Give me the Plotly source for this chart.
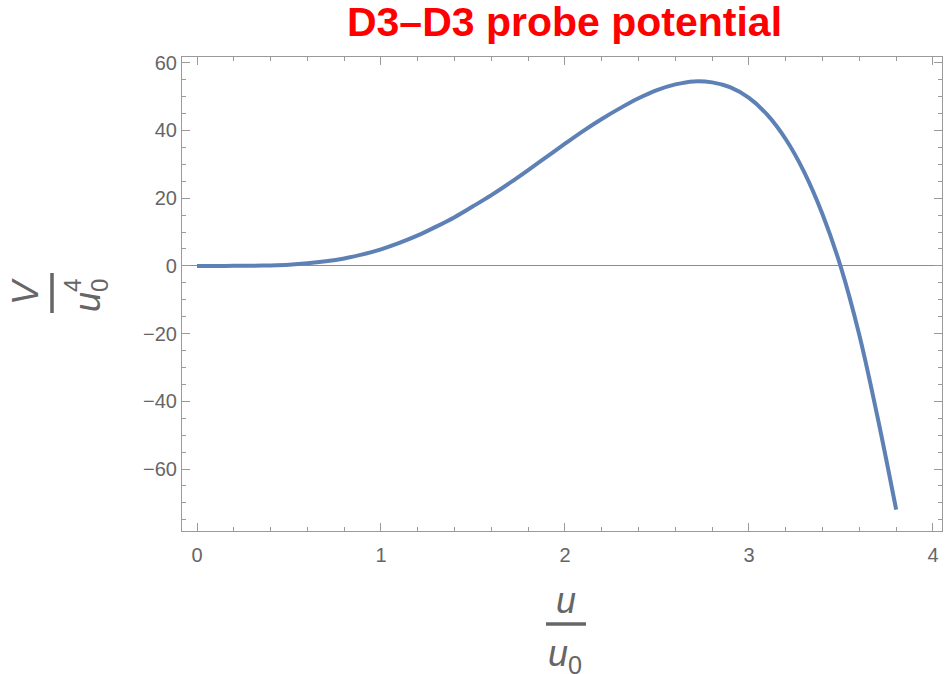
import plotly.graph_objects as go

# ---- data ----
u_ratio = [0.0, 0.1, 0.2, 0.3, 0.4, 0.5, 0.6, 0.7, 0.8, 0.9, 1.0,
           1.1, 1.2, 1.3, 1.4, 1.5, 1.6, 1.7, 1.8, 1.9, 2.0,
           2.1, 2.2, 2.3, 2.4, 2.5, 2.6, 2.7, 2.8, 2.9, 3.0,
           3.1, 3.2, 3.3, 3.4, 3.5, 3.6, 3.7, 3.8]
V_ratio = [0.0, 0.0, 0.01, 0.05, 0.15, 0.35, 0.75, 1.35, 2.2, 3.4, 4.9,
           6.8, 9.0, 11.6, 14.4, 17.6, 20.9, 24.5, 28.3, 32.2, 36.1,
           39.9, 43.4, 46.6, 49.5, 51.9, 53.6, 54.5, 54.2, 52.7, 49.6,
           44.6, 37.4, 27.7, 15.2, -0.5, -20.5, -45.0, -72.0]
x_ticks = [0, 1, 2, 3, 4]
y_ticks = [-60, -40, -20, 0, 20, 40, 60]
title_text = "D3\u2013D3 probe potential"

W, H = 945, 674
L, R, T, B = 182, 3, 57, 143
PW, PH = W - L - R, H - T - B

def px(x):
    return (x - L) / PW

def py(y):
    return (H - B - y) / PH

FONT = "Liberation Sans, Arial, sans-serif"
GRAY_TXT = "#666666"
GRAY_AX = "#9a9a9a"

fig = go.Figure()
fig.add_trace(go.Scatter(
    x=u_ratio, y=V_ratio, mode="lines", line_shape="spline",
    line=dict(color="#5E81B5", width=4, smoothing=1.0), hoverinfo="x+y", showlegend=False,
))

axis_common = dict(
    showgrid=False, showline=True, linecolor=GRAY_AX, linewidth=1.2,
    mirror="allticks", ticks="inside", tickcolor=GRAY_AX, tickwidth=1.2,
    tickfont=dict(family=FONT, size=20, color=GRAY_TXT),
)

fig.update_xaxes(
    range=[-0.0815, 4.049], tickvals=x_ticks, ticklen=8, zeroline=False,
    ticklabelstandoff=6,
    minor=dict(ticks="inside", ticklen=4, dtick=0.2, tickcolor=GRAY_AX, tickwidth=1),
    **axis_common,
)
fig.update_yaxes(
    range=[-78.3, 61.7], tickvals=y_ticks, ticklen=8,
    zeroline=True, zerolinecolor="#8c8c8c", zerolinewidth=1,
    minor=dict(ticks="inside", ticklen=4, dtick=5, tickcolor=GRAY_AX, tickwidth=1),
    **axis_common,
)

ann = []
lab_font = dict(family=FONT, size=36, color=GRAY_TXT)
sc_font = dict(family=FONT, size=24, color=GRAY_TXT)
# y label: V / u0^4 (rotated)
ann.append(dict(x=px(25), y=py(292), text="<i>V</i>", textangle=-90, font=lab_font))
ann.append(dict(x=px(87), y=py(302), text="<i>u</i>", textangle=-90, font=lab_font))
ann.append(dict(x=px(72), y=py(286), text="4", textangle=-90, font=sc_font))
ann.append(dict(x=px(99), y=py(286), text="0", textangle=-90, font=sc_font))
# x label: u / u0
ann.append(dict(x=px(565.5), y=py(600), text="<i>u</i>", font=lab_font))
ann.append(dict(x=px(565), y=py(656), text="<i>u</i><sub>0</sub>", font=lab_font))
for a in ann:
    a.update(xref="paper", yref="paper", showarrow=False, xanchor="center", yanchor="middle")

shapes = [
    dict(type="line", xref="paper", yref="paper", x0=px(52), x1=px(52), y0=py(273), y1=py(313),
         line=dict(color=GRAY_TXT, width=3.5)),
    dict(type="line", xref="paper", yref="paper", x0=px(546), x1=px(586), y0=py(624), y1=py(624),
         line=dict(color=GRAY_TXT, width=3.5)),
]

fig.update_layout(
    width=W, height=H, autosize=False,
    margin=dict(l=L, r=R, t=T, b=B, pad=0),
    plot_bgcolor="white", paper_bgcolor="white",
    title=dict(text="<b>" + title_text + "</b>", x=px(564.5), xref="paper", xanchor="center",
               y=1 - 22 / H, yref="container", yanchor="middle",
               font=dict(family=FONT, size=41, color="#ff0000")),
    annotations=ann, shapes=shapes,
)

fig.write_html("out.html", config={"displayModeBar": False},
               post_script="document.body.style.margin='0';")
